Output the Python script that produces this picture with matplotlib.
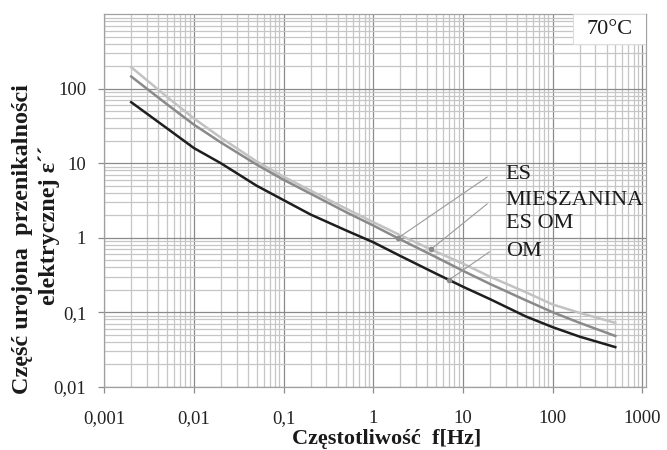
import numpy as np
import matplotlib
matplotlib.use("Agg")
import matplotlib.pyplot as plt
from matplotlib.ticker import LogLocator, FixedLocator, NullFormatter

plt.rcParams['font.family'] = ['Liberation Serif', 'DejaVu Serif']

# ---- data ----
freq = [0.002, 0.005, 0.01, 0.02, 0.05, 0.1, 0.2, 0.5, 1, 2, 5, 10, 20, 50, 100, 200, 500]
es = [146, 62, 33, 19, 9.6, 6.0, 3.9, 2.2, 1.46, 0.95, 0.55, 0.36, 0.24, 0.145, 0.10, 0.072, 0.048]
mieszanina = [195, 78, 40, 22, 10.6, 6.6, 4.3, 2.45, 1.62, 1.08, 0.65, 0.45, 0.30, 0.186, 0.127, 0.098, 0.072]
om = [66, 29.5, 16, 10, 5.0, 3.2, 2.05, 1.25, 0.87, 0.57, 0.33, 0.22, 0.15, 0.088, 0.063, 0.047, 0.034]

x_ticks = [0.001, 0.01, 0.1, 1, 10, 100, 1000]
x_tick_labels = ["0,001", "0,01", "0,1", "1", "10", "100", "1000"]
y_ticks = [0.01, 0.1, 1, 10, 100]
y_tick_labels = ["0,01", "0,1", "1", "10", "100"]

labels = ["ES", "MIESZANINA", "ES OM", "OM"]
temp_label = "70°C"
xlabel = "Częstotliwość  f[Hz]"
ylabel1 = "Część urojona  przenikalności"
ylabel2 = "elektrycznej ε´´"

# ---- figure ----
fig = plt.figure(figsize=(6.67, 4.5), dpi=100)
ax = fig.add_axes([0.1562, 0.1407, 0.8123, 0.8276])
ax.set_xscale('log')
ax.set_yscale('log')
ax.set_xlim(0.001, 1100)
ax.set_ylim(0.01, 1000)

ax.xaxis.set_major_locator(FixedLocator(x_ticks))
ax.yaxis.set_major_locator(FixedLocator(y_ticks))
ax.set_xticklabels(x_tick_labels)
ax.set_yticklabels(y_tick_labels)
ax.xaxis.set_minor_locator(LogLocator(base=10, subs=np.arange(2, 10), numticks=20))
ax.yaxis.set_minor_locator(LogLocator(base=10, subs=np.arange(2, 10), numticks=20))
ax.xaxis.set_minor_formatter(NullFormatter())
ax.yaxis.set_minor_formatter(NullFormatter())

ax.grid(True, which='minor', color='#c6c6c6', linewidth=0.9)
ax.grid(True, which='major', color='#8a8a8a', linewidth=0.9)
ax.set_axisbelow(True)

ax.tick_params(which='major', direction='out', length=4, width=0.9, color='#8c8c8c',
               labelsize=13.5, pad=9, labelcolor='#222222')
ax.tick_params(axis='x', pad=13)
ax.tick_params(which='minor', length=0)
for s in ax.spines.values():
    s.set_color('#a0a0a0')
    s.set_linewidth(0.9)

ax.plot(freq, mieszanina, color='#c2c2c2', linewidth=1.8, zorder=3)
ax.plot(freq, es, color='#8a8a8a', linewidth=1.8, zorder=3)
ax.plot(freq, om, color='#1e1e1e', linewidth=1.8, zorder=3)

# leader lines to curve points
def on_curve(f, xs, ys):
    return 10 ** np.interp(np.log10(f), np.log10(xs), np.log10(ys))

leaders = [
    (1.88, es, (0.707, 0.563)),
    (4.4, mieszanina, (0.707, 0.491)),
    (7.0, om, (0.711, 0.362)),
]
for f, ys, start in leaders:
    yv = on_curve(f, freq, ys)
    ax.annotate("", xy=(f, yv), xycoords='data', xytext=start, textcoords='axes fraction',
                arrowprops=dict(arrowstyle='-', color='#9a9a9a', linewidth=0.8,
                                shrinkA=0, shrinkB=0), zorder=4)
    ax.plot([f], [yv], marker='o', markersize=3, color='#8a8a8a', zorder=5)

text_y = [0.5685, 0.501, 0.437, 0.362]
for lab, ty in zip(labels, text_y):
    ax.text(0.741, ty, lab, transform=ax.transAxes, fontsize=16, va='center', ha='left',
            color='#1a1a1a', zorder=6)

# temperature box
ax.add_patch(plt.Rectangle((0.865, 0.920), 0.135, 0.080, transform=ax.transAxes,
                           facecolor='white', edgecolor='#dddddd', linewidth=0.8, zorder=6))
ax.text(0.9325, 0.958, temp_label, transform=ax.transAxes, fontsize=16, ha='center',
        va='center', color='#1a1a1a', zorder=7)

fig.text(386.5 / 667, 1 - 439 / 450, xlabel, fontsize=16, fontweight='bold',
         ha='center', va='center', color='#1a1a1a')
fig.text(23 / 667, 1 - 239 / 450, ylabel1, fontsize=17.5, fontweight='bold', rotation=90,
         ha='center', va='center', color='#1a1a1a')
fig.text(49 / 667, 1 - 225 / 450, ylabel2, fontsize=17.5, fontweight='bold', rotation=90,
         ha='center', va='center', color='#1a1a1a')

fig.savefig("out.png", dpi=100)
